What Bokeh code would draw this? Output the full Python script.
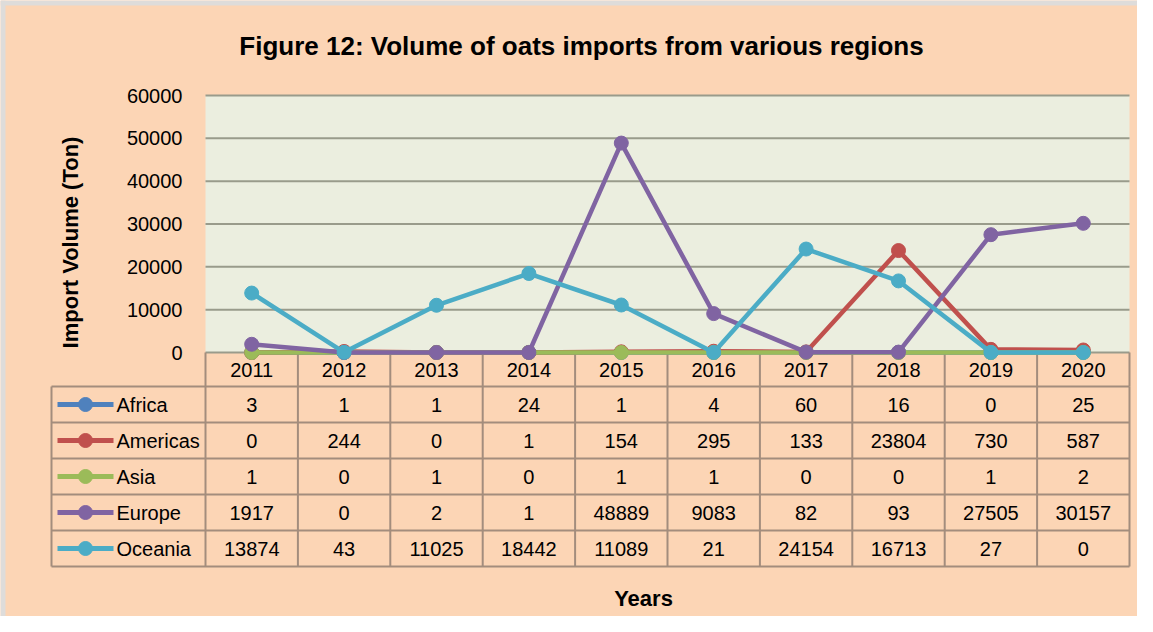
import math
from bokeh.plotting import figure
from bokeh.models import Range1d, FixedTicker
from bokeh.core.properties import value
from bokeh.embed import file_html
from bokeh.resources import INLINE

# ---------------- data ----------------
years = ["2011", "2012", "2013", "2014", "2015", "2016", "2017", "2018", "2019", "2020"]
africa = [3, 1, 1, 24, 1, 4, 60, 16, 0, 25]
americas = [0, 244, 0, 1, 154, 295, 133, 23804, 730, 587]
asia = [1, 0, 1, 0, 1, 1, 0, 0, 1, 2]
europe = [1917, 0, 2, 1, 48889, 9083, 82, 93, 27505, 30157]
oceania = [13874, 43, 11025, 18442, 11089, 21, 24154, 16713, 27, 0]
series_names = ["Africa", "Americas", "Asia", "Europe", "Oceania"]
y_ticks = [0, 10000, 20000, 30000, 40000, 50000, 60000]

series_values = [africa, americas, asia, europe, oceania]
colors = ["#4F81BD", "#C0504D", "#9BBB59", "#8064A2", "#4BACC6"]

# ---------------- style / geometry ----------------
PEACH = "#FCD5B5"
PLOT_BG = "#EBEEDF"
GRID = "#999B8B"
TLINE = "#A38D7D"
EDGE = "#DEDCDA"
FONT = "Liberation Sans"
W, H = 1137, 616
n = len(years)
nrow = len(series_names)
xs = list(range(n))

PLOT_L, PLOT_R = 205, 1129          # plot area left/right (px)
COL = (PLOT_R - PLOT_L) / n         # column width (px)
C0 = PLOT_L + COL / 2               # centre of first column
Y_TOP, Y_ZERO, Y_HDR = 95, 352, 386
RH = 36.0                           # table row height
YMAX = y_ticks[-1]
per_px = YMAX / (Y_ZERO - Y_TOP)


def X(px):
    return (px - C0) / COL


def R(py):
    return 0.5 + (py - Y_HDR) / RH


p = figure(width=W, height=H, output_backend="svg", toolbar_location=None,
           title=None, x_axis_type=None,
           x_range=Range1d(X(0), X(W)),
           y_range=Range1d(-(H - Y_ZERO) * per_px, YMAX + Y_TOP * per_px),
           min_border=0)
p.extra_y_ranges = {"tbl": Range1d(R(H), R(0))}
p.border_fill_color = PEACH
p.background_fill_color = PEACH
p.outline_line_color = None
p.grid.visible = False

# thin grey frame at the image's top / left edge
p.quad(left=[X(0), X(0)], right=[X(5), X(W)], bottom=[R(H), R(5)], top=[R(0), R(0)],
       fill_color=EDGE, line_color=None, y_range_name="tbl")

# y axis drawn at the plot-area left edge
ax = p.yaxis[0]
ax.fixed_location = -0.5
ax.ticker = FixedTicker(ticks=y_ticks)
ax.axis_line_color = None
ax.major_tick_line_color = None
ax.minor_tick_line_color = None
ax.major_label_standoff = 17
ax.major_label_text_font = FONT
ax.major_label_text_font_size = "20px"
ax.major_label_text_color = "black"

# plot area background + grid lines
p.quad(left=[-0.5], right=[n - 0.5], bottom=[0], top=[YMAX],
       fill_color=PLOT_BG, line_color=None)
p.segment(x0=[-0.5] * len(y_ticks), y0=y_ticks, x1=[n - 0.5] * len(y_ticks),
          y1=y_ticks, line_color=GRID, line_width=2)

# header row (years)
vx = [i - 0.5 for i in range(n + 1)]
p.segment(x0=vx, y0=[R(Y_ZERO)] * len(vx), x1=vx, y1=[0.5] * len(vx),
          line_color=TLINE, line_width=2, y_range_name="tbl")
p.text(x=xs, y=[R(369)] * n, text=years, text_font=value(FONT),
       text_font_size="20px", text_align="center", text_baseline="middle",
       text_color="black", y_range_name="tbl")

# table grid
tab_left = X(51)
hy = [r + 0.5 for r in range(nrow + 1)]
p.segment(x0=[tab_left] * len(hy), y0=hy, x1=[n - 0.5] * len(hy), y1=hy,
          line_color=TLINE, line_width=2, y_range_name="tbl")
tvx = [tab_left] + vx
p.segment(x0=tvx, y0=[0.5] * len(tvx), x1=tvx, y1=[nrow + 0.5] * len(tvx),
          line_color=TLINE, line_width=2, y_range_name="tbl")

# table values
tx, ty, tt = [], [], []
for r, vals in enumerate(series_values):
    for i, v in enumerate(vals):
        tx.append(i)
        ty.append(r + 1)
        tt.append(str(v))
p.text(x=tx, y=ty, text=tt, text_font=value(FONT), text_font_size="20px",
       text_align="center", text_baseline="middle", text_color="black",
       y_range_name="tbl")

# legend keys in the table
rows = [r + 1 for r in range(nrow)]
p.segment(x0=[X(57)] * nrow, y0=rows, x1=[X(113)] * nrow, y1=rows,
          line_color=colors, line_width=5, y_range_name="tbl")
p.scatter(x=[X(85)] * nrow, y=rows, size=14, fill_color=colors,
          line_color=colors, y_range_name="tbl")
p.text(x=[X(116)] * nrow, y=rows, text=series_names, text_font=value(FONT),
       text_font_size="20px", text_align="left", text_baseline="middle",
       text_color="black", y_range_name="tbl")

# series
for name, vals, c in zip(series_names, series_values, colors):
    p.line(xs, vals, line_color=c, line_width=4.5)
    p.scatter(xs, vals, size=14, fill_color=c, line_color=c)

# titles
p.text(x=[X(581)], y=[R(45)], text=["Figure 12: Volume of oats imports from various regions"],
       text_font=value(FONT), text_font_style="bold", text_font_size="26px",
       text_align="center", text_baseline="middle", text_color="black",
       y_range_name="tbl")
p.text(x=[X(70)], y=[R(242)], text=["Import Volume (Ton)"], angle=math.pi / 2,
       text_font=value(FONT), text_font_style="bold", text_font_size="22px",
       text_align="center", text_baseline="middle", text_color="black",
       y_range_name="tbl")
p.text(x=[X(643)], y=[R(598)], text=["Years"],
       text_font=value(FONT), text_font_style="bold", text_font_size="22px",
       text_align="center", text_baseline="middle", text_color="black",
       y_range_name="tbl")

open("out.html", "w").write(file_html(p, INLINE))
